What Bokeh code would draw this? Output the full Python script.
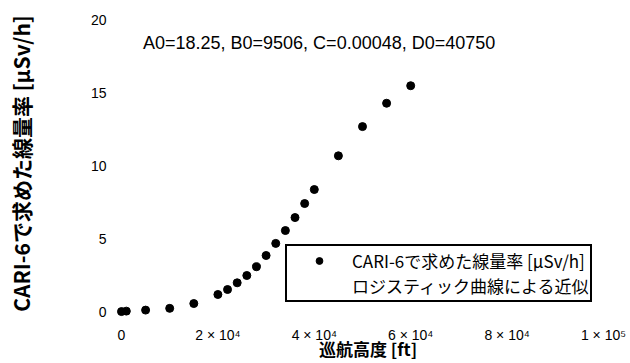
from bokeh.plotting import figure
from bokeh.models import Range1d, FixedTicker, Legend, LegendItem, Label
from bokeh.embed import file_html
from bokeh.resources import INLINE

altitude_ft = [0, 1000, 5000, 10000, 15000, 20000, 22000, 24000, 26000, 28000, 30000,
               32000, 34000, 36000, 38000, 40000, 45000, 50000, 55000, 60000]
dose_rate = [0.03, 0.06, 0.13, 0.25, 0.58, 1.2, 1.54, 2.0, 2.5, 3.1, 3.87,
             4.7, 5.58, 6.47, 7.43, 8.39, 10.7, 12.7, 14.3, 15.5]

x_ticks = [0, 20000, 40000, 60000, 80000, 100000]
x_tick_labels = ["0", "2 × 10⁴", "4 × 10⁴", "6 × 10⁴", "8 × 10⁴", "1 × 10⁵"]
y_ticks = [0, 5, 10, 15, 20]

fit_text = "A0=18.25, B0=9506, C=0.00048, D0=40750"
series_label = "CARI-6で求めた線量率 [μSv/h]"
fit_label = "ロジスティック曲線による近似"
x_title = "巡航高度 [ft]"

TICKFONT = "Liberation Sans"
CJK = "Noto Sans CJK JP"

p = figure(width=630, height=363, output_backend="svg", toolbar_location=None,
           x_range=Range1d(-2282, 104564), y_range=Range1d(-0.445, 20.79),
           min_border_left=110, min_border_right=5, min_border_top=8, min_border_bottom=45)
p.outline_line_color = None
p.grid.visible = False
p.background_fill_color = "white"

r = p.scatter(altitude_ft, dose_rate, size=8, color="black")
fit = p.line([], [], line_alpha=0)

for ax in (p.xaxis[0], p.yaxis[0]):
    ax.axis_line_color = None
    ax.major_tick_line_color = None
    ax.minor_tick_line_color = None
    ax.major_tick_out = 0
    ax.major_tick_in = 0
    ax.major_label_text_font = TICKFONT
    ax.major_label_text_font_size = "14px"
    ax.major_label_text_color = "black"
    ax.major_label_text_line_height = 1.0
    ax.axis_label_text_font = CJK
    ax.axis_label_text_font_style = "bold"
    ax.axis_label_text_color = "black"
    ax.axis_label_text_line_height = 1.0

p.xaxis[0].ticker = FixedTicker(ticks=x_ticks)
p.xaxis[0].major_label_overrides = {t: s for t, s in zip(x_ticks, x_tick_labels)}
p.xaxis[0].major_label_standoff = 8
p.xaxis[0].axis_label = x_title
p.xaxis[0].axis_label_text_font_size = "17px"
p.xaxis[0].axis_label_standoff = -10

p.yaxis[0].ticker = FixedTicker(ticks=y_ticks)
p.yaxis[0].major_label_standoff = 4
p.yaxis[0].major_label_orientation = "horizontal"
p.yaxis[0].axis_label = series_label
p.yaxis[0].axis_label_text_font_size = "21px"
p.yaxis[0].axis_label_standoff = 52

legend = Legend(items=[LegendItem(label=series_label, renderers=[r]),
                       LegendItem(label=fit_label, renderers=[fit])],
                location=(175, 16), padding=2, spacing=0, label_height=17, glyph_height=17,
                glyph_width=60, label_standoff=3, margin=0,
                border_line_color="black", border_line_width=2, border_line_alpha=1.0,
                label_text_font=CJK, label_text_font_size="17px", label_text_color="black",
                label_text_line_height=1.0)
p.add_layout(legend)

p.add_layout(Label(x=41000, y=18.4, text=fit_text,
                   text_align="center", text_baseline="middle", text_font="Liberation Sans",
                   text_font_size="18px", text_color="black"))

open("out.html", "w").write(file_html(p, INLINE))
